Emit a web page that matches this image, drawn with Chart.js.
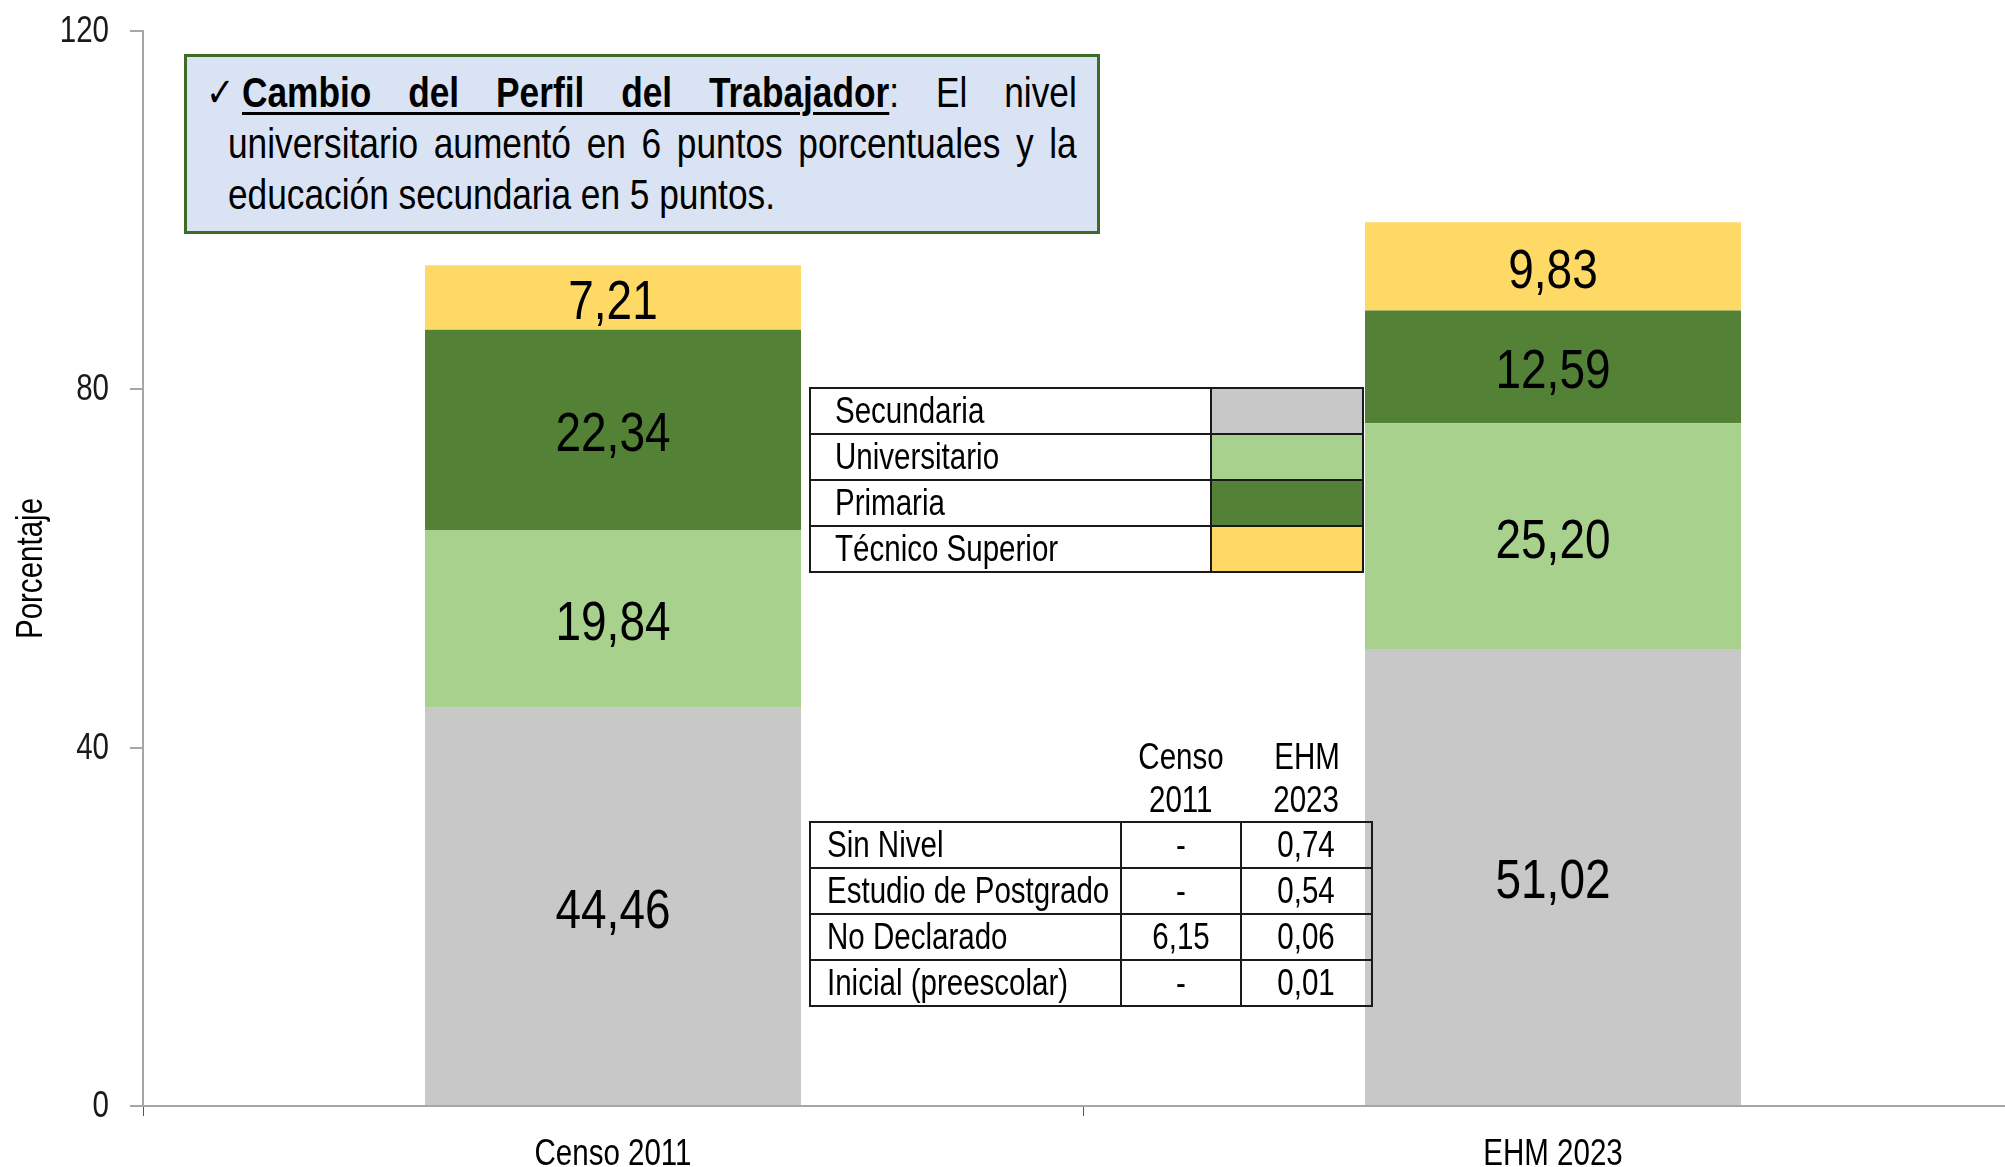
<!DOCTYPE html>
<html>
<head>
<meta charset="utf-8">
<script src="https://cdn.jsdelivr.net/npm/chart.js@4/dist/chart.umd.min.js"></script>
<style>
  html, body { margin: 0; padding: 0; background: #fff; overflow: hidden; }
  #wrap { position: relative; width: 2005px; height: 1167px; overflow: hidden; }
  #grafico { position: absolute; left: 0; top: 0; }
  .sans { font-family: "Liberation Sans", Arial, sans-serif; color: #000; }
  #nota {
    position: absolute; left: 184px; top: 54px; width: 916px; height: 180px;
    box-sizing: border-box; border: 3px solid #3e6a2a; background: #dae3f3;
    font-size: 43px; line-height: 51px;
  }
  #nota .linea {
    position: absolute; text-align: justify; text-align-last: justify; white-space: nowrap;
    transform: scaleX(0.82); transform-origin: 0 0;
  }
  #nota .ultima { text-align-last: left; }
  #nota .check { position: absolute; left: 19px; top: 10px; font-size: 40px; font-weight: bold; font-family: "DejaVu Sans", sans-serif; transform: scaleX(0.85); transform-origin: 0 0; }
  #nota u { text-decoration-thickness: 3px; text-underline-offset: 5px; }
  table { border-collapse: collapse; table-layout: fixed; position: absolute; font-size: 36px; }
  td { border: 2px solid #1a1a1a; padding: 0; height: 44px; line-height: 44px; white-space: nowrap; overflow: hidden; }
  td span, th span { display: inline-block; transform: scaleX(0.82); }
  td.nom span { transform-origin: 0 50%; }
  #leyenda { left: 809px; top: 387px; width: 553px; }
  #leyenda td.nom { padding-left: 24px; }
  #otros { left: 809px; top: 735px; width: 562px; }
  #otros td.nom { padding-left: 16px; }
  #otros td.val { text-align: center; }
  #otros th { font-weight: normal; line-height: 43px; border: none; padding: 0; text-align: center; white-space: nowrap; }
</style>
</head>
<body>
<div id="wrap">
  <canvas id="grafico" width="2023" height="1167"></canvas>
  <div id="nota" class="sans">
    <span class="check">✓</span>
    <div class="linea" style="left:55px; top:10px; width:1018px;"><u><b>Cambio del Perfil del Trabajador</b></u>: El nivel</div>
    <div class="linea" style="left:41px; top:61px; width:1035px;">universitario aumentó en 6 puntos porcentuales y la</div>
    <div class="linea ultima" style="left:41px; top:112px; width:1035px;">educación secundaria en 5 puntos.</div>
  </div>
  <table id="leyenda" class="sans"><colgroup><col style="width:401px"><col style="width:152px"></colgroup><tbody></tbody></table>
  <table id="otros" class="sans"><colgroup><col style="width:311px"><col style="width:120px"><col style="width:131px"></colgroup><thead></thead><tbody></tbody></table>
</div>
<script>
// datos
var categorias = ['Censo 2011', 'EHM 2023'];
var secundaria = [44.46, 51.02];
var universitario = [19.84, 25.20];
var primaria = [22.34, 12.59];
var tecnicoSuperior = [7.21, 9.83];
var ticksY = [0, 40, 80, 120];
var tituloY = 'Porcentaje';

// tabla de otros niveles (null = "-")
var otrosNiveles = ['Sin Nivel', 'Estudio de Postgrado', 'No Declarado', 'Inicial (preescolar)'];
var otrosCenso2011 = [null, null, 6.15, null];
var otrosEhm2023 = [0.74, 0.54, 0.06, 0.01];
var otrosEncabezado = [['Censo', '2011'], ['EHM', '2023']];

var fuente = '"Liberation Sans", Arial, sans-serif';
var estrecho = 0.82; // imita Arial Narrow

function coma(v) {
    return v == null ? '-' : v.toFixed(2).replace('.', ',');
}

// texto estrecho en el canvas
function texto(ctx, t, x, y, size, align, rot) {
    ctx.save();
    ctx.translate(x, y);
    if (rot) ctx.rotate(rot);
    ctx.scale(estrecho, 1);
    ctx.font = size + 'px ' + fuente;
    ctx.textAlign = align || 'center';
    ctx.textBaseline = 'middle';
    ctx.fillText(t, 0, 0);
    ctx.restore();
}

var textos = {
    id: 'textos',
    afterDatasetsDraw: function(chart) {
        var ctx = chart.ctx;
        ctx.fillStyle = '#000';
        chart.data.datasets.forEach(function(ds, i) {
            chart.getDatasetMeta(i).data.forEach(function(bar, j) {
                var p = bar.getProps(['x', 'y', 'base'], true);
                texto(ctx, coma(ds.data[j]), p.x, (p.y + p.base) / 2 + 6, 56);
            });
        });
    },
    afterDraw: function(chart) {
        var ctx = chart.ctx;
        var sx = chart.scales.x, sy = chart.scales.y, area = chart.chartArea;
        ctx.fillStyle = '#000';
        categorias.forEach(function(c, i) {
            texto(ctx, c, sx.getPixelForTick(i), area.bottom + 49, 36);
        });
        ctx.fillStyle = '#1a1a1a';
        ticksY.forEach(function(v) {
            texto(ctx, String(v), area.left - 34, sy.getPixelForValue(v) + 1, 36, 'right');
        });
        ctx.fillStyle = '#000';
        texto(ctx, tituloY, 32, (area.top + area.bottom) / 2, 36, 'center', -Math.PI / 2);
    }
};

var ctx = document.getElementById('grafico').getContext('2d');
var grafico = new Chart(ctx, {
    type: 'bar',
    data: {
        labels: categorias,
        datasets: [
            { label: 'Secundaria', data: secundaria, backgroundColor: '#c8c8c8' },
            { label: 'Universitario', data: universitario, backgroundColor: '#a9d18e' },
            { label: 'Primaria', data: primaria, backgroundColor: '#538135' },
            { label: 'Técnico Superior', data: tecnicoSuperior, backgroundColor: '#ffd966' }
        ]
    },
    options: {
        responsive: false,
        animation: false,
        devicePixelRatio: 1,
        layout: { padding: { top: 31, right: 0, bottom: 0, left: 0 } },
        datasets: { bar: { categoryPercentage: 1, barPercentage: 0.4, borderWidth: 0 } },
        plugins: { legend: { display: false }, tooltip: { enabled: false } },
        scales: {
            x: {
                stacked: true,
                offset: true,
                afterFit: function(s) { s.height = 61; },
                grid: { offset: true, drawOnChartArea: false, drawTicks: true, tickLength: 10, color: '#555', lineWidth: 1 },
                border: { color: '#a6a6a6', width: 2 },
                ticks: { display: false }
            },
            y: {
                stacked: true,
                min: 0,
                max: 120,
                afterFit: function(s) { s.width = 143; },
                afterBuildTicks: function(s) { s.ticks = ticksY.map(function(v) { return { value: v }; }); },
                grid: { drawOnChartArea: false, drawTicks: true, tickLength: 13, color: '#a6a6a6', lineWidth: 2 },
                border: { color: '#a6a6a6', width: 2 },
                ticks: { display: false }
            }
        }
    },
    plugins: [textos]
});

function celda(t, cls) {
    return '<td class="' + cls + '"><span>' + t + '</span></td>';
}

// leyenda como tabla
var cuerpoLeyenda = document.querySelector('#leyenda tbody');
grafico.data.datasets.forEach(function(ds) {
    var tr = document.createElement('tr');
    tr.innerHTML = celda(ds.label, 'nom') + '<td style="background:' + ds.backgroundColor + '"></td>';
    cuerpoLeyenda.appendChild(tr);
});

// tabla de otros niveles
document.querySelector('#otros thead').innerHTML = '<tr><th></th>' + otrosEncabezado.map(function(h) {
    return '<th><span>' + h[0] + '</span><br><span>' + h[1] + '</span></th>';
}).join('') + '</tr>';
var cuerpoOtros = document.querySelector('#otros tbody');
otrosNiveles.forEach(function(n, i) {
    var tr = document.createElement('tr');
    tr.innerHTML = celda(n, 'nom') + celda(coma(otrosCenso2011[i]), 'val') + celda(coma(otrosEhm2023[i]), 'val');
    cuerpoOtros.appendChild(tr);
});
</script>
</body>
</html>
